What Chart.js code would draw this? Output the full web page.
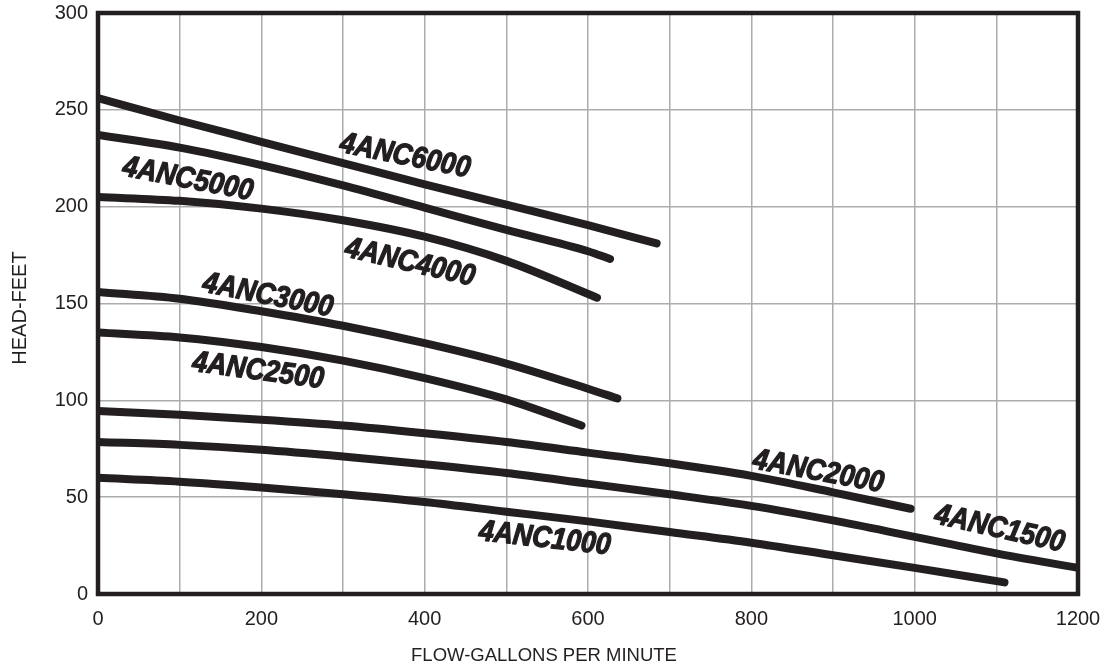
<!DOCTYPE html>
<html><head><meta charset="utf-8">
<script src="https://cdn.jsdelivr.net/npm/chart.js@4.4.0/dist/chart.umd.min.js"></script>
<style>html,body{margin:0;padding:0;background:#fff;}canvas{display:block;}</style>
</head><body>
<canvas id="c" width="1106" height="671"></canvas>
<script>
// ---- data (flow in GPM, head in feet) ----
const flow6000 = [0,100,200,300,400,500,600,684];
const head6000 = [256,244.5,233.5,222.5,211.5,201,190.5,181];
const flow5000 = [0,100,200,300,400,500,600,627];
const head5000 = [237,230.5,221.5,211,199.5,188,177,173];
const flow4000 = [0,100,200,300,400,500,611];
const head4000 = [205,203,199,193,184.5,172,153];
const flow3000 = [0,100,200,300,400,500,600,636];
const head3000 = [156,152.5,146,138.5,129.5,119,106,101];
const flow2500 = [0,100,200,300,400,500,592];
const head2500 = [135,132.5,127.5,120.5,111.5,100.5,87];
const flow2000 = [0,100,200,300,400,500,600,700,800,900,995];
const head2000 = [94.5,92.5,90,87,83,78.5,73,67.5,61,52.5,44];
const flow1500 = [0,100,200,300,400,500,600,700,800,900,1000,1100,1200];
const head1500 = [78.5,77,74.5,71,67,62.5,57,51.5,45.5,38,29.5,21,13.5];
const flow1000 = [0,100,200,300,400,500,600,700,800,900,1000,1110];
const head1000 = [60,58,55,51.5,47.5,42.5,37.5,32,26.5,20,13.5,6];

const seriesNames = ['4ANC6000','4ANC5000','4ANC4000','4ANC3000','4ANC2500','4ANC2000','4ANC1500','4ANC1000'];
const seriesFlows = [flow6000,flow5000,flow4000,flow3000,flow2500,flow2000,flow1500,flow1000];
const seriesHeads = [head6000,head5000,head4000,head3000,head2500,head2000,head1500,head1000];

const xTickLabels = [0,200,400,600,800,1000,1200];
const yTickLabels = [0,50,100,150,200,250,300];

// curve label anchors (data units) and angles
const labelFlow = [376,110,382,208,196,882,1104,547];
const labelHead = [226,214,171,154,115,63,33.5,28.4];
const labelAngle = [11.3,11,13,11,7.7,10.5,12.7,6.3];

const INK = '#231f20';

const datasets = seriesNames.map((name,i)=>({
  label: name,
  data: seriesFlows[i].map((f,j)=>({x:f, y:seriesHeads[i][j]})),
  borderColor: INK,
  borderWidth: 8,
  borderCapStyle: 'round',
  borderJoinStyle: 'round',
  pointRadius: 0,
  pointHoverRadius: 0,
  cubicInterpolationMode: 'monotone',
  fill: false
}));

const decor = {
  id: 'decor',
  afterDraw(chart){
    const {ctx, chartArea:a, scales:{x,y}} = chart;
    ctx.save();
    // frame
    ctx.strokeStyle = INK; ctx.lineWidth = 4.5;
    ctx.strokeRect(a.left, a.top, a.right-a.left, a.bottom-a.top);
    // axis titles
    ctx.fillStyle = INK;
    ctx.textAlign = 'center'; ctx.textBaseline = 'middle';
    ctx.font = '18.5px "Liberation Sans", Arial, sans-serif';
    ctx.fillText('FLOW-GALLONS PER MINUTE', 544, 656);
    ctx.save();
    ctx.translate(20, 308); ctx.rotate(-Math.PI/2);
    ctx.font = '20px "Liberation Sans", Arial, sans-serif';
    ctx.fillText('HEAD-FEET', 0, 0);
    ctx.restore();
    // curve labels
    ctx.font = 'italic bold 30px "Liberation Sans", Arial, sans-serif';
    ctx.lineWidth = 1.3; ctx.strokeStyle = INK; ctx.lineJoin = 'round';
    seriesNames.forEach((name,i)=>{
      const px = x.getPixelForValue(labelFlow[i]);
      const py = y.getPixelForValue(labelHead[i]);
      ctx.save();
      ctx.translate(px, py);
      ctx.rotate(labelAngle[i]*Math.PI/180);
      ctx.scale(0.89, 1);
      ctx.fillText(name, 0, 0);
      ctx.strokeText(name, 0, 0);
      ctx.restore();
    });
    ctx.restore();
  }
};

new Chart(document.getElementById('c'), {
  type: 'line',
  data: { datasets },
  options: {
    responsive: false,
    animation: false,
    events: [],
    layout: { padding: { top: 13, right: 28, left: 0, bottom: 0 } },
    plugins: { legend: { display: false }, tooltip: { enabled: false } },
    scales: {
      x: {
        type: 'linear', min: 0, max: 1200,
        border: { display: false },
        grid: { color: '#acacb0', lineWidth: 1.5, drawTicks: false },
        ticks: {
          stepSize: 100, padding: 13, color: INK,
          font: { family: '"Liberation Sans", Arial, sans-serif', size: 20 },
          maxRotation: 0,
          callback: v => xTickLabels.includes(v) ? String(v) : ''
        },
        afterFit: s => { s.height = 77; s.paddingLeft = 0; s.paddingRight = 0; }
      },
      y: {
        type: 'linear', min: 0, max: 300,
        border: { display: false },
        grid: { color: '#acacb0', lineWidth: 1.5, drawTicks: false },
        ticks: {
          stepSize: 50, padding: 10, color: INK,
          font: { family: '"Liberation Sans", Arial, sans-serif', size: 20 },
          callback: v => yTickLabels.includes(v) ? String(v) : ''
        },
        afterFit: s => { s.width = 98; s.paddingTop = 0; s.paddingBottom = 0; }
      }
    }
  },
  plugins: [decor]
});
</script>
</body></html>
